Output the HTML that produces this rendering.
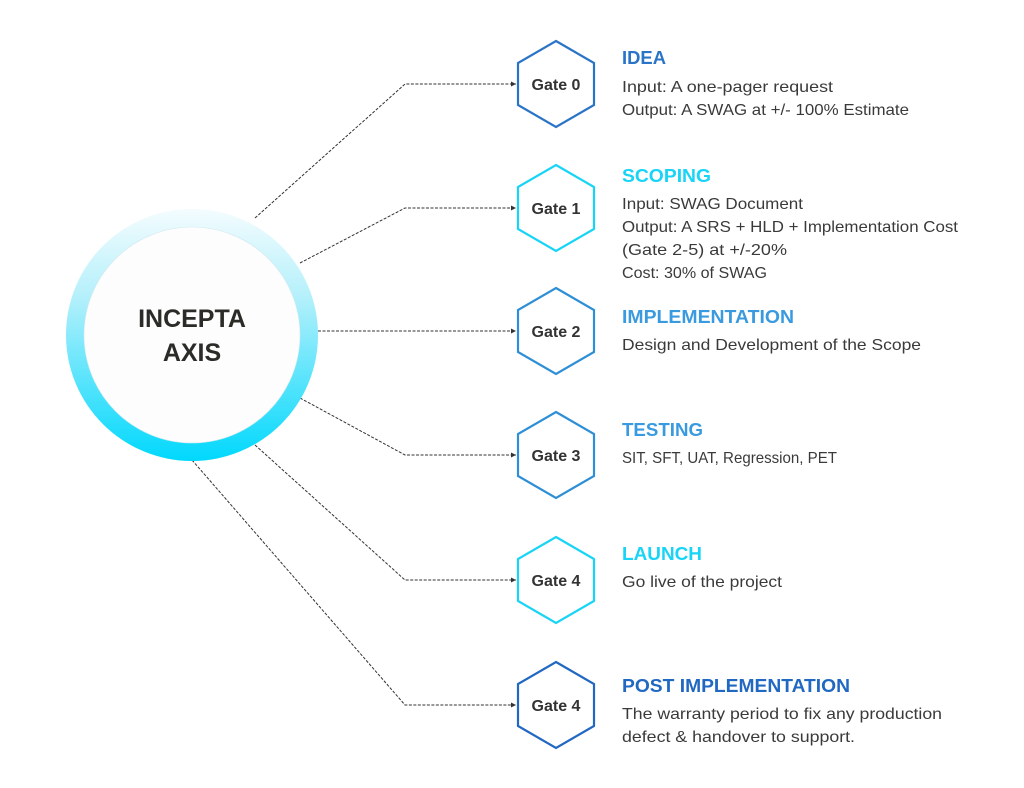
<!DOCTYPE html>
<html><head><meta charset="utf-8"><style>
html,body{margin:0;padding:0;background:#fff;width:1024px;height:788px;overflow:hidden}
svg text{font-family:"Liberation Sans",sans-serif}
.t{font-size:18px;font-weight:bold}
.b{font-size:16px;fill:#3a3a3a}
.g{font-size:16px;font-weight:bold;fill:#333;text-anchor:middle}
</style></head><body>
<svg width="1024" height="788" viewBox="0 0 1024 788" xmlns="http://www.w3.org/2000/svg">
<defs>
<linearGradient id="ring" x1="0" y1="0" x2="0" y2="1">
<stop offset="0" stop-color="#f4fcfe"/>
<stop offset="0.35" stop-color="#b4f0fb"/>
<stop offset="1" stop-color="#00d8fd"/>
</linearGradient>
<marker id="ar" markerWidth="6" markerHeight="6" refX="5" refY="3" orient="auto"><path d="M0,0.5 L5,3 L0,5.5z" fill="#333"/></marker>
</defs>
<g stroke="#333" stroke-width="1" stroke-dasharray="3,1.5" fill="none" marker-end="url(#ar)">
<polyline points="255,218 405,84 516,84"/>
<polyline points="300,263 405,208 516,208"/>
<polyline points="318,331 516,331"/>
<polyline points="300,398 405,455 516,455"/>
<polyline points="255,445 405,580 516,580"/>
<polyline points="192,460 405,705 516,705"/>
</g>
<circle cx="192" cy="335" r="126" fill="url(#ring)"/>
<circle cx="192" cy="335" r="108" fill="#fdfdfd" stroke="#cfe9ef" stroke-width="0.6"/>
<text x="192" y="327" text-anchor="middle" style="font-size:25px;font-weight:bold;fill:#2b2b28">INCEPTA</text>
<text x="192" y="361" text-anchor="middle" style="font-size:25px;font-weight:bold;fill:#2b2b28">AXIS</text>
<g fill="#fff" stroke-width="2.2">
<polygon transform="translate(556,84)" points="0,-43 38,-21 38,21 0,43 -38,21 -38,-21" stroke="#2a74c8"/>
<polygon transform="translate(556,208)" points="0,-43 38,-21 38,21 0,43 -38,21 -38,-21" stroke="#18d4f6"/>
<polygon transform="translate(556,331)" points="0,-43 38,-21 38,21 0,43 -38,21 -38,-21" stroke="#2e8fd6"/>
<polygon transform="translate(556,455)" points="0,-43 38,-21 38,21 0,43 -38,21 -38,-21" stroke="#2e8fd6"/>
<polygon transform="translate(556,580)" points="0,-43 38,-21 38,21 0,43 -38,21 -38,-21" stroke="#18d4f6"/>
<polygon transform="translate(556,705)" points="0,-43 38,-21 38,21 0,43 -38,21 -38,-21" stroke="#2168c2"/>
</g>
<text class="g" x="556" y="90">Gate 0</text>
<text class="g" x="556" y="214">Gate 1</text>
<text class="g" x="556" y="337">Gate 2</text>
<text class="g" x="556" y="461">Gate 3</text>
<text class="g" x="556" y="586">Gate 4</text>
<text class="g" x="556" y="711">Gate 4</text>

<g lengthAdjust="spacingAndGlyphs">
<text class="t" x="622" y="64" fill="#2a74c8" textLength="44" lengthAdjust="spacingAndGlyphs">IDEA</text>
<text class="b" x="622" y="92" textLength="211" lengthAdjust="spacingAndGlyphs">Input: A one-pager request</text>
<text class="b" x="622" y="115" textLength="287" lengthAdjust="spacingAndGlyphs">Output: A SWAG at +/- 100% Estimate</text>

<text class="t" x="622" y="182" fill="#18d4f6" textLength="89" lengthAdjust="spacingAndGlyphs">SCOPING</text>
<text class="b" x="622" y="209" textLength="181" lengthAdjust="spacingAndGlyphs">Input: SWAG Document</text>
<text class="b" x="622" y="232" textLength="336" lengthAdjust="spacingAndGlyphs">Output: A SRS + HLD + Implementation Cost</text>
<text class="b" x="622" y="255" textLength="165" lengthAdjust="spacingAndGlyphs">(Gate 2-5) at +/-20%</text>
<text class="b" x="622" y="278" textLength="145" lengthAdjust="spacingAndGlyphs">Cost: 30% of SWAG</text>

<text class="t" x="622" y="323" fill="#3a9ae0" textLength="172" lengthAdjust="spacingAndGlyphs">IMPLEMENTATION</text>
<text class="b" x="622" y="350" textLength="299" lengthAdjust="spacingAndGlyphs">Design and Development of the Scope</text>

<text class="t" x="622" y="436" fill="#3a9ae0" textLength="81" lengthAdjust="spacingAndGlyphs">TESTING</text>
<text class="b" x="622" y="463" textLength="215" lengthAdjust="spacingAndGlyphs">SIT, SFT, UAT, Regression, PET</text>

<text class="t" x="622" y="560" fill="#18d4f6" textLength="80" lengthAdjust="spacingAndGlyphs">LAUNCH</text>
<text class="b" x="622" y="587" textLength="160" lengthAdjust="spacingAndGlyphs">Go live of the project</text>

<text class="t" x="622" y="692" fill="#2168c2" textLength="228" lengthAdjust="spacingAndGlyphs">POST IMPLEMENTATION</text>
<text class="b" x="622" y="719" textLength="320" lengthAdjust="spacingAndGlyphs">The warranty period to fix any production</text>
<text class="b" x="622" y="742" textLength="233" lengthAdjust="spacingAndGlyphs">defect &amp; handover to support.</text>
</g>
</svg>
</body></html>
